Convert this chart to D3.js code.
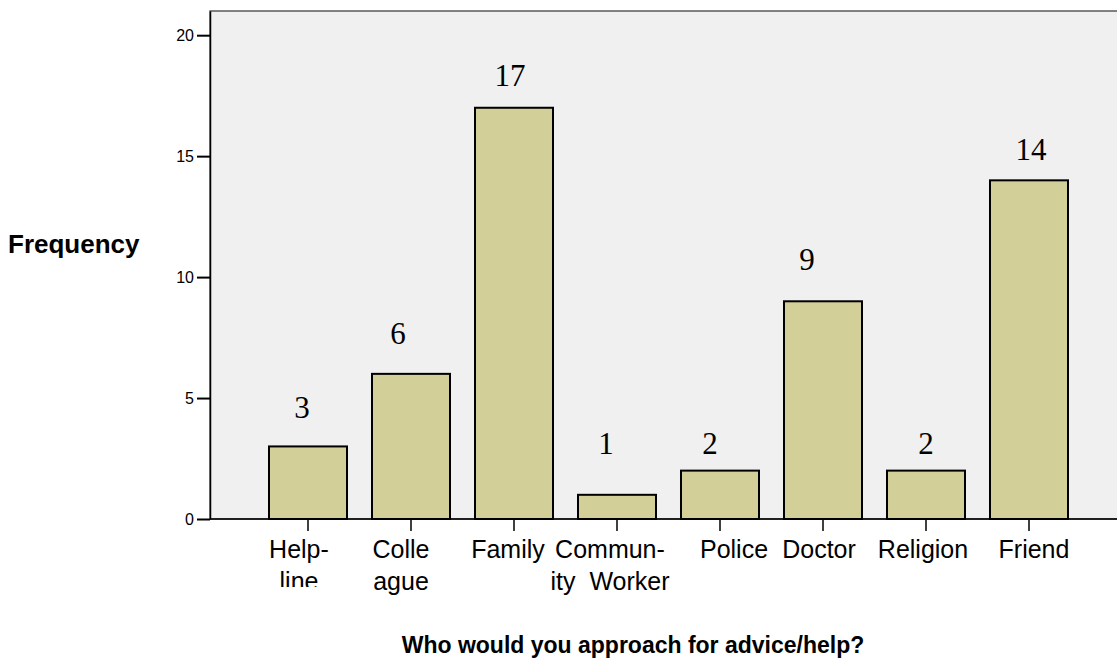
<!DOCTYPE html>
<html>
<head>
<meta charset="utf-8">
<style>
  body { margin: 0; background: #fff; }
  svg { display: block; }
</style>
</head>
<body>
<svg width="1117" height="659"></svg>
<script src="https://d3js.org/d3.v7.min.js"></script>
<script>

// data
var categories = ["Helpline", "Colleague", "Family", "Community Worker", "Police", "Doctor", "Religion", "Friend"];
var tickLines = [["Help-", "line"], ["Colle", "ague"], ["Family"], ["Commun-", "ity  Worker"], ["Police"], ["Doctor"], ["Religion"], ["Friend"]];
var counts = [3, 6, 17, 1, 2, 9, 2, 14];
// where each count label sits, in frequency units
var labelAt = [4.18, 7.24, 17.89, 2.69, 2.69, 10.3, 2.69, 14.85];
var yTicks = [0, 5, 10, 15, 20];

// hand-placed nudges (px), like the original layout
var countNudge = [-6, -13, -4, -11, -10, -16, 0, 2];
var tickNudge = [-9, -10, -6, -7, 14, -4, -3, 5];

var svg = d3.select("svg"),
    plotLeft = 210, plotTop = 11, plotRight = 1127, plotBottom = 519;

var x = d3.scaleBand()
    .domain(categories)
    .range([plotLeft, plotRight])
    .paddingInner(0.2427)
    .paddingOuter(0.5728);

var y = d3.scaleLinear()
    .domain([0, 21])
    .range([plotBottom, plotTop]);

// plot frame
svg.append("rect")
    .attr("x", plotLeft)
    .attr("y", plotTop)
    .attr("width", plotRight - plotLeft)
    .attr("height", plotBottom - plotTop)
    .attr("fill", "#f0f0f0")
    .attr("stroke", "#333")
    .attr("stroke-width", 1.2);

// bars
svg.selectAll(".bar")
    .data(counts)
  .enter().append("rect")
    .attr("class", "bar")
    .attr("x", function(d, i) { return x(categories[i]); })
    .attr("y", function(d) { return y(d); })
    .attr("width", x.bandwidth())
    .attr("height", function(d) { return y(0) - y(d); })
    .attr("fill", "#d3cf98")
    .attr("stroke", "#000")
    .attr("stroke-width", 2);

// count labels
svg.selectAll(".count")
    .data(counts)
  .enter().append("text")
    .attr("class", "count")
    .attr("x", function(d, i) { return x(categories[i]) + x.bandwidth() / 2 + countNudge[i]; })
    .attr("y", function(d, i) { return y(labelAt[i]); })
    .attr("text-anchor", "middle")
    .attr("font-family", "'Liberation Serif', 'Times New Roman', serif")
    .attr("font-size", 31)
    .attr("fill", "#000")
    .text(function(d) { return d; });

// y axis
var yAxis = svg.append("g")
    .attr("transform", "translate(" + plotLeft + ",0)")
    .call(d3.axisLeft(y).tickValues(yTicks).tickSize(13).tickPadding(3).tickSizeOuter(0));
yAxis.select(".domain").attr("stroke", "#000").attr("stroke-width", 1.5);
yAxis.selectAll(".tick line").attr("stroke", "#000").attr("stroke-width", 2);
yAxis.selectAll(".tick text")
    .attr("font-family", "Arial, 'Liberation Sans', sans-serif")
    .attr("font-size", 16)
    .attr("fill", "#000");

// x axis
var xAxis = svg.append("g")
    .attr("transform", "translate(0," + plotBottom + ")")
    .call(d3.axisBottom(x).tickSize(12).tickSizeOuter(0).tickFormat(""));
xAxis.select(".domain").attr("stroke", "#000").attr("stroke-width", 1.5)
    .attr("d", "M" + plotLeft + ",0H" + plotRight);
xAxis.selectAll(".tick line").attr("stroke", "#000").attr("stroke-width", 1.5);

// the first tick label is cut at the bottom in the original
svg.append("clipPath").attr("id", "tickclip")
  .append("rect").attr("x", 0).attr("y", 0).attr("width", 1117).attr("height", 587);

var tickText = svg.append("g")
  .selectAll("text")
    .data(categories)
  .enter().append("text")
    .attr("x", function(d, i) { return x(d) + x.bandwidth() / 2 + tickNudge[i]; })
    .attr("y", 558)
    .attr("text-anchor", "middle")
    .attr("font-family", "Arial, 'Liberation Sans', sans-serif")
    .attr("font-size", 25)
    .attr("fill", "#000")
    .attr("clip-path", function(d, i) { return i === 0 ? "url(#tickclip)" : null; })
    .style("white-space", "pre");

tickText.each(function(d, i) {
  var t = d3.select(this), cx = +t.attr("x");
  tickLines[i].forEach(function(line, k) {
    t.append("tspan")
        .attr("x", cx)
        .attr("dy", k === 0 ? 0 : 32)
        .text(line);
  });
});

// titles
svg.append("text")
    .attr("x", 8)
    .attr("y", 253)
    .attr("font-family", "Arial, 'Liberation Sans', sans-serif")
    .attr("font-weight", "bold")
    .attr("font-size", 26)
    .text("Frequency");

svg.append("text")
    .attr("x", 633)
    .attr("y", 653)
    .attr("text-anchor", "middle")
    .attr("font-family", "Arial, 'Liberation Sans', sans-serif")
    .attr("font-weight", "bold")
    .attr("font-size", 23)
    .text("Who would you approach for advice/help?");

</script>
</body>
</html>
